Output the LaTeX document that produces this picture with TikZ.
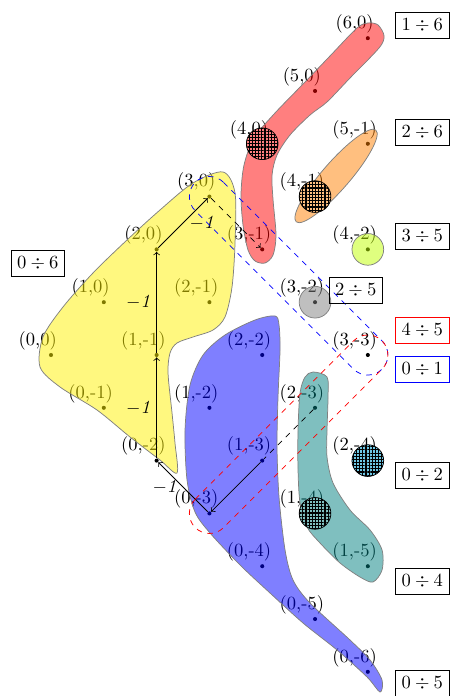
\documentclass[tikz,border=0pt]{standalone}
\usepackage{amsmath,amssymb}
\usetikzlibrary{calc,patterns.meta}

\definecolor{skyfill}{RGB}{110,200,230}

\tikzset{
  dot/.style={circle,fill,inner sep=0pt,minimum size=2.2pt},
  blob/.style={draw=gray,fill opacity=.5},
  hatchdisc/.style={draw,pattern={Hatch[distance=1.7pt,line width=.6pt]}},
  wt/.style={font=\itshape},
}

\begin{document}
\begin{tikzpicture}[x=1cm,y=1cm,>=to]
\useasboundingbox (-0.966,-6.458) rectangle (7.538,6.723);
% the point (a,b) sits at (a-b,a+b)
\foreach \a in {0,...,6}{
 \pgfmathtruncatemacro\m{6-\a}
 \foreach \k in {0,...,\m}{
  \pgfmathtruncatemacro\b{-\k}
  \node[dot] (p\a\k) at ({\a+\k},{\a-\k}) {};
  \node (l\a\k) at ([xshift=-.25cm,yshift=.27cm]p\a\k) {(\a,\b)};
 }
}

% regions
\draw[blob,fill=yellow] plot[smooth cycle] coordinates {
 (3.258,3.466) (3.485,3.068) (3.485,2.121) (3.428,1.288) (3.295,0.720)
 (3.068,0.473) (2.689,0.341) (2.386,0.227) (2.254,0.038) (2.216,-0.341)
 (2.292,-1.098) (2.348,-1.667) (2.386,-2.235) (2.064,-1.989) (1.496,-1.553)
 (0.871,-1.042) (0.170,-0.606) (-0.208,-0.227) (-0.152,0.341) (0.227,0.909)
 (0.795,1.553) (1.439,2.178) (2.064,2.746) (2.689,3.258)};
\draw[blob,fill=red] plot[smooth cycle] coordinates {
 (5.795,6.193) (5.284,5.663) (4.811,5.170) (4.242,4.583) (3.845,4.110)
 (3.655,3.598) (3.598,3.030) (3.636,2.462) (3.731,1.989) (3.864,1.780)
 (4.053,1.742) (4.205,1.894) (4.261,2.273) (4.205,2.936) (4.186,3.409)
 (4.280,3.788) (4.527,4.167) (4.905,4.545) (5.227,4.792) (5.663,5.246)
 (6.212,5.814) (6.307,6.042) (6.193,6.250) (6.004,6.288)};
\draw[blob,fill=orange,rotate around={49:(5.398,3.39)}] (5.398,3.39) ellipse (1.15 and .26);
\draw[blob,fill=blue] plot[smooth cycle] coordinates {
 (4.242,0.739) (3.864,0.663) (3.295,0.379) (2.879,0.0) (2.633,-0.568)
 (2.538,-1.420) (2.576,-2.367) (2.727,-2.973) (3.011,-3.371) (3.580,-3.977)
 (4.148,-4.508) (4.773,-5.076) (5.417,-5.587) (5.985,-6.098) (6.231,-6.383)
 (6.269,-6.155) (6.042,-5.777) (5.663,-5.398) (4.905,-4.697) (4.583,-4.261)
 (4.432,-3.693) (4.318,-2.689) (4.280,-1.742) (4.299,-0.795) (4.337,0.095)
 (4.318,0.568)};
\draw[blob,fill=teal] plot[smooth cycle] coordinates {
 (4.962,-0.322) (5.227,-0.417) (5.246,-0.795) (5.227,-1.420) (5.227,-1.932)
 (5.341,-2.424) (5.663,-2.936) (6.042,-3.314) (6.269,-3.693) (6.269,-4.072)
 (6.098,-4.299) (5.852,-4.205) (5.473,-3.939) (5.095,-3.561) (4.848,-3.258)
 (4.716,-2.803) (4.678,-2.178) (4.678,-1.420) (4.716,-0.720) (4.811,-0.417)};
\draw[blob,fill=lime] (p42) circle (.3);
\draw[blob,fill=gray] (p32) circle (.3);

% marked points
\draw[hatchdisc,preaction={fill=red!50}] (p40) circle (.3);
\draw[hatchdisc,preaction={fill=orange!50}] (p41) circle (.3);
\draw[hatchdisc,preaction={fill=teal!50}] (p14) circle (.3);
\draw[hatchdisc,preaction={fill=skyfill}] (p24) circle (.3);

% path
\draw[dashed] (p23) -- (p13);
\draw[->] (p13) -- (p03);
\draw[->] (p03) -- node[left,wt] (w1) {$-$1} (p02);
\draw[->] (p02) -- node[left,wt] (w2) {$-$1} (p11);
\draw[->] (p11) -- node[left,wt] (w3) {$-$1} (p20);
\draw[->] (p20) -- node[right,wt] (w4) {$-$1} (p30);
\draw[->,dashed] (p30) -- (p31);

% loops
\draw[blue,dashed] ($(p30)+(45:.38)$) -- ($(p33)+(45:.38)$)
 arc[start angle=45,end angle=-135,radius=.38] -- ($(p30)+(-135:.38)$)
 arc[start angle=-135,end angle=-315,radius=.38] -- cycle;
\draw[red,dashed] ($(p03)+(135:.38)$) -- ($(p33)+(135:.38)$)
 arc[start angle=135,end angle=-45,radius=.38] -- ($(p03)+(-45:.38)$)
 arc[start angle=-45,end angle=-225,radius=.38] -- cycle;

% counts
\node[draw] (b16) at (7.03,6.24) {$1\div6$};
\node[draw] (b26) at (7.03,4.21) {$2\div6$};
\node[draw] (b35) at (7.03,2.24) {$3\div5$};
\node[draw=red] (b45) at (7.03,0.47) {$4\div5$};
\node[draw=blue] (b01) at (7.03,-0.28) {$0\div1$};
\node[draw] (b02) at (7.03,-2.28) {$0\div2$};
\node[draw] (b04) at (7.03,-4.28) {$0\div4$};
\node[draw] (b05) at (7.03,-6.22) {$0\div5$};
\node[draw] (b25) at (5.77,1.23) {$2\div5$};
\node[draw] (b06) at (-0.25,1.73) {$0\div6$};
\end{tikzpicture}
\end{document}
